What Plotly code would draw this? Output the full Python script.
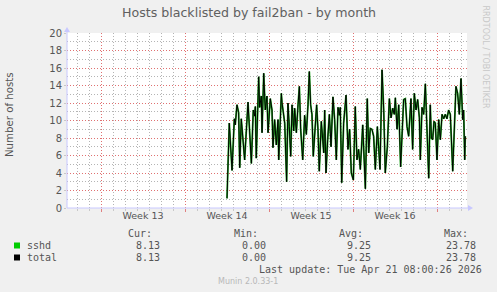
import plotly.graph_objects as go

# time in days since start of Week 13 (Mon), values = number of blacklisted hosts
t_days = [10.5, 10.69, 10.92, 11.11, 11.19, 11.33, 11.47, 11.56, 11.69, 11.97, 12.25, 12.53, 12.69, 12.81,
          12.86, 12.94, 13.14, 13.22, 13.36, 13.42, 13.56, 13.69, 13.83, 13.92, 14.11, 14.25, 14.33, 14.47,
          14.61, 14.75, 14.81, 15.03,
          15.08, 15.31, 15.47, 15.58, 15.69, 15.81, 15.92, 16.06, 16.14, 16.28, 16.42, 16.53, 16.64, 16.81,
          16.97, 17.11, 17.25, 17.36, 17.47, 17.58, 17.69, 17.86, 17.97, 18.08, 18.19, 18.36, 18.56, 18.64,
          18.75, 18.89, 19.03, 19.17, 19.33, 19.47, 19.61, 19.75, 19.86, 19.94, 20.06,
          20.22, 20.42, 20.58, 20.72, 20.86, 21.03, 21.19, 21.33, 21.47, 21.61, 21.81, 21.92, 22.03, 22.19,
          22.31, 22.44, 22.58, 22.72, 22.86, 23.03, 23.14, 23.25, 23.42, 23.56, 23.69, 23.86, 24.03, 24.17,
          24.31, 24.44, 24.53, 24.67, 24.81, 24.97,
          25.22, 25.36, 25.5, 25.64, 25.83, 25.97, 26.11, 26.25, 26.39, 26.53, 26.61, 26.75, 26.89, 27.03,
          27.17, 27.31, 27.44, 27.53, 27.64, 27.75, 27.86, 28.0, 28.14, 28.28, 28.42, 28.56, 28.69, 28.83,
          28.97, 29.11, 29.31, 29.47, 29.58, 29.72, 29.86, 30.0, 30.14, 30.22, 30.31, 30.36]
sshd = [1.1, 9.7, 4.3, 10.2, 9.5, 11.8, 10.9, 4.6, 10.2, 5.5, 12.1, 5.1, 11.2, 10.5,
        11.6, 5.7, 15.0, 11.5, 12.8, 8.6, 15.4, 11.2, 12.8, 8.6, 12.5, 11.2, 6.9, 10.1,
        7.2, 10.1, 5.5, 13.1,
        12.1, 9.7, 3.0, 12.0, 9.3, 5.9, 11.8, 8.8, 11.4, 8.6, 11.8, 13.9, 9.0, 5.5,
        10.6, 8.4, 11.8, 15.6, 11.8, 10.7, 5.9, 10.3, 11.8, 9.0, 4.2, 9.9, 6.3, 11.2,
        4.0, 7.8, 10.7, 7.0, 12.7, 10.1, 5.5, 11.5, 10.6, 11.5, 2.9,
        9.7, 12.9, 6.7, 9.0, 4.0, 3.2, 11.6, 5.5, 6.7, 4.4, 9.5, 5.1, 2.2, 12.5,
        6.3, 9.1, 9.0, 8.2, 4.4, 9.3, 7.0, 4.4, 15.8, 11.2, 4.0, 7.0, 12.5, 10.3,
        11.4, 10.7, 12.6, 9.0, 11.8, 4.7,
        12.4, 12.5, 9.3, 8.2, 12.5, 6.7, 13.1, 11.2, 12.4, 10.3, 5.5, 11.5, 10.7, 14.2,
        8.8, 3.4, 11.8, 8.0, 7.8, 9.9, 9.7, 5.5, 10.1, 7.8, 10.7, 10.2, 10.7, 10.2,
        11.2, 10.7, 4.2, 10.1, 13.9, 13.1, 10.7, 14.8, 10.1, 11.2, 5.5, 8.2]
total = list(sshd)

week_bounds = [0, 7, 14, 21, 28]
week_centers = [3.5, 10.5, 17.5, 24.5]
week_labels = ["Week 13", "Week 14", "Week 15", "Week 16"]
x_range = [-2.833, 30.5]

series_names = ["sshd", "total"]
series_colors = ["#00cc00", "#000000"]
cur_vals = ["8.13", "8.13"]
min_vals = ["0.00", "0.00"]
avg_vals = ["9.25", "9.25"]
max_vals = ["23.78", "23.78"]

W, H = 497, 292
L, R, T, B = 67, 467, 33, 208


def px(x):
    return (x - L) / (R - L)


def py(y):
    return (B - y) / (B - T)


fig = go.Figure()
fig.add_trace(go.Scatter(x=t_days, y=sshd, mode="lines", line=dict(color="#22aa22", width=1.8),
                         hoverinfo="skip", showlegend=False))
fig.add_trace(go.Scatter(x=t_days, y=total, mode="lines", line=dict(color="#000000", width=1),
                         xaxis="x2", hoverinfo="skip", showlegend=False))

grey = "#555555"
dots = "1px,2px"
minor_col = "#b4b4b4"
major_col = "#e07070"
fig.update_layout(
    width=W, height=H,
    margin=dict(l=L, r=W - R, t=T, b=H - B, pad=0),
    paper_bgcolor="#f0f0f0", plot_bgcolor="#ffffff",
    font=dict(family="DejaVu Sans", size=10, color=grey),
    showlegend=False,
    xaxis=dict(range=x_range, tickvals=week_centers, ticktext=week_labels, ticks="",
               showgrid=False, zeroline=False, showline=False,
               tickfont=dict(size=9.5, color=grey),
               minor=dict(dtick=1, tick0=0, showgrid=True, gridcolor=minor_col, griddash=dots,
                          gridwidth=1, ticks="outside", ticklen=2, tickcolor="#c8c8c8")),
    xaxis2=dict(range=x_range, overlaying="x", side="bottom", tickvals=week_bounds,
                showticklabels=False, ticks="outside", ticklen=3, tickcolor="#e08080",
                showgrid=True, gridcolor=major_col, griddash=dots, gridwidth=1,
                zeroline=False, showline=False),
    yaxis=dict(range=[0, 20], dtick=2, tick0=0, showgrid=True, gridcolor=major_col,
               griddash=dots, zeroline=False, showline=False, ticks="outside", ticklen=2,
               tickcolor="#c8c8c8", tickfont=dict(size=10, color=grey),
               minor=dict(dtick=1, showgrid=True, gridcolor=minor_col, griddash=dots)),
)

axis_col = "#c8c8ff"
shapes = [
    dict(type="line", xref="paper", yref="paper", x0=0, x1=px(471), y0=0, y1=0,
         line=dict(color=axis_col, width=1)),
    dict(type="line", xref="paper", yref="paper", x0=0, x1=0, y0=0, y1=py(29),
         line=dict(color=axis_col, width=1)),
    dict(type="path", xref="paper", yref="paper",
         path=f"M {px(468)} {py(205)} L {px(473)} {py(208)} L {px(468)} {py(211)} Z",
         fillcolor=axis_col, line=dict(color=axis_col, width=0)),
    dict(type="path", xref="paper", yref="paper",
         path=f"M {px(64)} {py(32)} L {px(67)} {py(27)} L {px(70)} {py(32)} Z",
         fillcolor=axis_col, line=dict(color=axis_col, width=0)),
]


def note(text, x, y, xanchor="center", font=None, angle=0):
    return dict(text=text, x=px(x), y=py(y), xref="paper", yref="paper", showarrow=False,
                xanchor=xanchor, yanchor="middle", textangle=angle, font=font, borderpad=0)


ann = []
ann.append(note("Hosts blacklisted by fail2ban - by month", 248.5, 13,
                font=dict(size=12.6, color="#606060", family="DejaVu Sans")))
ann.append(note("Number of hosts", 10, 115, angle=-90,
                font=dict(size=10.2, color=grey, family="DejaVu Sans")))
ann.append(note("RRDTOOL / TOBI OETIKER", 485, 56.5, angle=90,
                font=dict(size=8, color="#c8c8c8", family="DejaVu Sans")))

mono = dict(family="DejaVu Sans Mono", size=10, color=grey)
cols = [(153, "Cur:", cur_vals, 161), (259, "Min:", min_vals, 267),
        (364, "Avg:", avg_vals, 372), (469, "Max:", max_vals, 477)]
for hx, htxt, vals, vx in cols:
    ann.append(note(htxt, hx, 233.5, xanchor="right", font=mono))
    for i, v in enumerate(vals):
        ann.append(note(v, vx, 245.5 + 12 * i, xanchor="right", font=mono))
for i, (name, col) in enumerate(zip(series_names, series_colors)):
    yc = 245.5 + 12 * i
    ann.append(note(name, 26, yc, xanchor="left", font=mono))
    shapes.append(dict(type="rect", xref="paper", yref="paper", x0=px(14), x1=px(20),
                       y0=py(yc - 3), y1=py(yc + 3), fillcolor=col, line=dict(width=0)))
ann.append(note("Last update: Tue Apr 21 08:00:26 2026", 483, 269.5, xanchor="right", font=mono))
ann.append(note("Munin 2.0.33-1", 248, 281.5,
                font=dict(family="DejaVu Sans", size=8, color="#b8b8b8")))

fig.update_layout(shapes=shapes, annotations=ann)
fig.write_html("out.html")
